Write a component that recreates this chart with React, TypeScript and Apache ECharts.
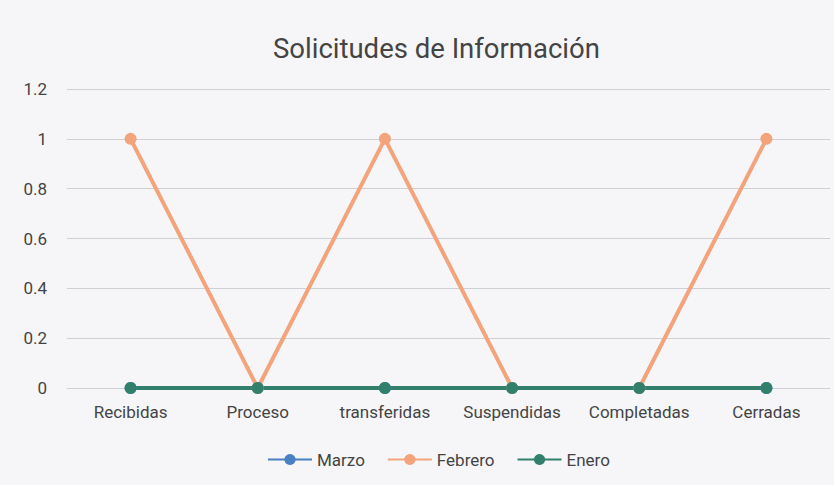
import React, { useEffect, useRef } from "react";
import * as echarts from "echarts";

const categories = ["Recibidas", "Proceso", "transferidas", "Suspendidas", "Completadas", "Cerradas"];
const marzo = [0, 0, 0, 0, 0, 0];
const febrero = [1, 0, 1, 0, 0, 1];
const enero = [0, 0, 0, 0, 0, 0];
const yTicks = { min: 0, max: 1.2, interval: 0.2 };

export default function App() {
  const ref = useRef<HTMLDivElement>(null);
  useEffect(() => {
    const chart = echarts.init(ref.current!, null, { renderer: "svg" });
    const font = "Roboto, 'Noto Sans', sans-serif";
    const mk = (name: string, data: number[], color: string) => ({
      name,
      type: "line",
      data,
      symbol: "circle",
      symbolSize: 12,
      lineStyle: { width: 4, color },
      itemStyle: { color },
    });
    chart.setOption({
      animation: false,
      backgroundColor: "#f6f6f8",
      textStyle: { fontFamily: font },
      title: {
        text: "Solicitudes de Información",
        left: 268,
        top: 29,
        textStyle: { fontFamily: font, fontSize: 27.5, fontWeight: "normal", color: "#444" },
      },
      legend: {
        bottom: 12,
        left: 262,
        itemWidth: 44,
        itemHeight: 14,
        itemGap: 22,
        textStyle: { fontFamily: font, fontSize: 17, color: "#444" },
        data: ["Marzo", "Febrero", "Enero"],
      },
      grid: { left: 67, right: 4, top: 89, bottom: 97, containLabel: false },
      xAxis: {
        type: "category",
        data: categories,
        boundaryGap: true,
        axisLine: { show: false },
        axisTick: { show: false },
        axisLabel: { interval: 0, fontFamily: font, fontSize: 17, color: "#444", margin: 15 },
      },
      yAxis: {
        type: "value",
        min: yTicks.min,
        max: yTicks.max,
        interval: yTicks.interval,
        axisLine: { show: false },
        axisTick: { show: false },
        axisLabel: { fontFamily: font, fontSize: 17, color: "#444", margin: 20 },
        splitLine: { lineStyle: { color: "#cfd0d6", width: 1 } },
      },
      series: [
        mk("Marzo", marzo, "#4a7fc1"),
        mk("Febrero", febrero, "#f3a47c"),
        mk("Enero", enero, "#32806c"),
      ],
    });
    return () => chart.dispose();
  }, []);
  return <div ref={ref} style={{ position: "fixed", left: 0, top: 0, width: 834, height: 485 }} />;
}
